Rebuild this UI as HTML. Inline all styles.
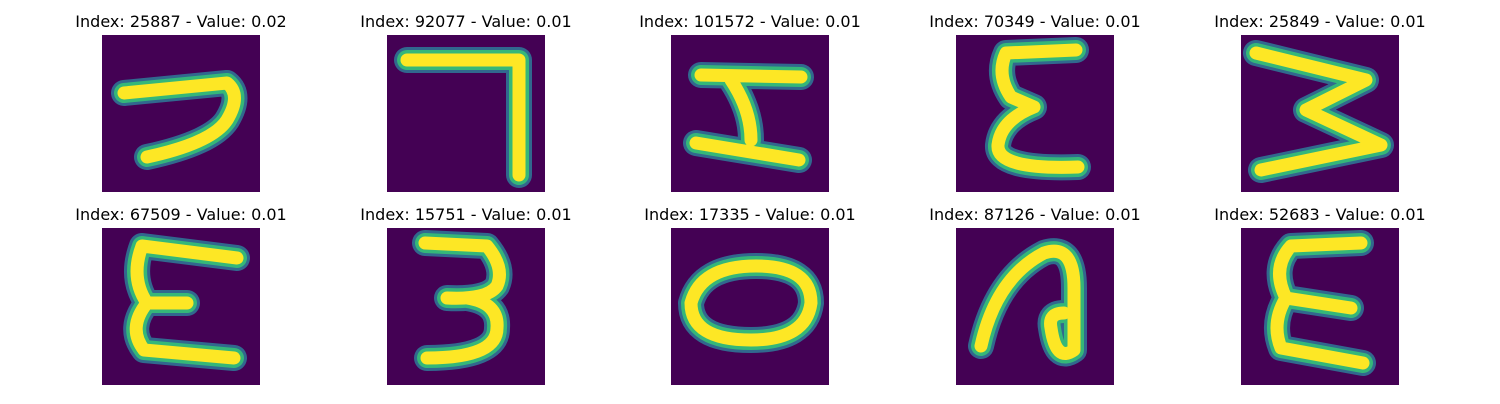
<!DOCTYPE html>
<html><head><meta charset="utf-8"><style>
body{margin:0;background:#fff;width:1500px;height:400px;overflow:hidden;font-family:"DejaVu Sans","Liberation Sans",sans-serif}
</style></head><body>
<svg id="fig" width="1500" height="400" xmlns="http://www.w3.org/2000/svg"></svg>
<script>
const indices=[25887,92077,101572,70349,25849,67509,15751,17335,87126,52683];
const values=["0.02","0.01","0.01","0.01","0.01","0.01","0.01","0.01","0.01","0.01"];
const shapes=[
"M22,58 L125,48 Q140,60 125,85 Q110,108 45,122",
"M20,25 L132,25 L132,140",
"M30,40 L130,42 M60,45 Q80,75 80,105 M25,108 L128,125",
"M120,15 L50,18 Q40,40 55,62 L78,72 Q45,85 42,110 Q40,135 122,132",
"M15,18 L125,45 L65,75 L140,110 L20,135",
"M135,30 L40,18 Q28,50 45,75 L85,75 M45,75 Q25,100 42,122 L132,130",
"M38,15 L100,18 Q118,40 110,58 Q100,72 60,70 M80,70 Q112,75 110,100 Q110,130 40,130",
"M20,75 Q30,38 85,38 Q140,38 140,75 Q135,112 80,112 Q20,112 20,75",
"M25,118 Q40,50 88,25 Q118,15 118,60 L118,122 Q100,135 95,100 Q92,85 108,85",
"M120,15 L50,18 Q30,40 45,70 L110,80 M45,70 Q30,95 40,120 L122,135"
];
const colX=[102,387,671,956,1241], rowY=[35,228], W=158, H=157;
const svg=document.getElementById('fig');
const NS='http://www.w3.org/2000/svg';
indices.forEach((idx,i)=>{
  const x=colX[i%5], y=rowY[Math.floor(i/5)];
  const g=document.createElementNS(NS,'g');
  
  
  const t=document.createElementNS(NS,'text');
  
  
  t.setAttribute('x',x+W/2);t.setAttribute('y',y-8);
  t.setAttribute('text-anchor','middle');t.setAttribute('font-size','16');
  t.textContent='Index: '+idx+' - Value: '+values[i];
  g.appendChild(t);
  const r=document.createElementNS(NS,'rect');
  
  
  r.setAttribute('x',x);r.setAttribute('y',y);r.setAttribute('width',W);r.setAttribute('height',H);
  r.setAttribute('fill','#440154');
  g.appendChild(r);
  [['#31688e',26],['#35b779',20],['#fde725',13]].forEach(([c,w])=>{
    const p=document.createElementNS(NS,'path');
    
    
    p.setAttribute('d',shapes[i]);p.setAttribute('transform','translate('+x+','+y+')');
    p.setAttribute('fill','none');p.setAttribute('stroke',c);p.setAttribute('stroke-width',w);
    p.setAttribute('stroke-linecap','round');p.setAttribute('stroke-linejoin','round');
    g.appendChild(p);
  });
  svg.appendChild(g);
});
</script>
</body></html>
